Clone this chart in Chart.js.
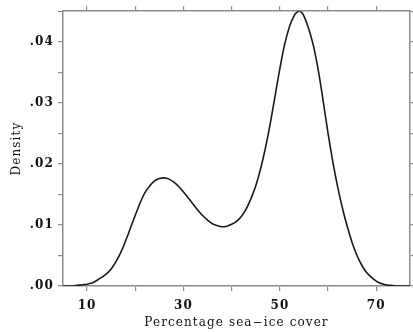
<!DOCTYPE html>
<html>
<head>
<meta charset="utf-8">
<script src="https://cdn.jsdelivr.net/npm/chart.js@4/dist/chart.umd.min.js"></script>
<style>
html,body{margin:0;padding:0;background:#fff;}
#wrap{width:413px;height:332px;}
</style>
</head>
<body>
<div id="wrap"><canvas id="c" width="413" height="332"></canvas></div>
<script>
const iceCover = [5,7,8,9,10,11,12,13,14,15,16,17,18,19,20,21,22,23,24,25,26,27,28,29,30,31,32,33,34,35,36,37,38,39,40,41,42,43,44,45,46,47,48,49,50,51,52,53,53.5,54,54.5,55,56,57,58,59,60,61,62,63,64,65,66,67,68,69,70,71,72,73,74,77];
const density  = [0,0,0.0001,0.0002,0.0003,0.0005,0.0009,0.0014,0.0020,0.0028,0.0040,0.0055,0.0074,0.0095,0.0116,0.0136,0.0153,0.0164,0.0172,0.0176,0.0177,0.0175,0.0170,0.0163,0.0154,0.0144,0.0134,0.0124,0.0115,0.0108,0.0102,0.0099,0.0097,0.0098,0.0101,0.0106,0.0114,0.0126,0.0143,0.0164,0.0192,0.0226,0.0266,0.0311,0.0356,0.0396,0.0425,0.0443,0.0448,0.0450,0.0448,0.0442,0.0421,0.0392,0.0352,0.0302,0.0250,0.0203,0.0162,0.0127,0.0097,0.0071,0.0050,0.0034,0.0022,0.0014,0.0008,0.0004,0.0002,0.0001,0,0];
const xTicks = [10,20,30,40,50,60,70];
const xTickLabels = ['10','','30','','50','','70'];
const yTickLabels = ['.00','','.01','','.02','','.03','','.04',''];
const xTitle = 'Percentage sea\u2212ice cover';
const yTitle = 'Density';

const axisGray = '#8c8c8c';
const pts = iceCover.map((x,i)=>({x:x,y:density[i]}));

function xTickGen(scale){ scale.ticks = xTicks.map(v=>({value:v})); }

const spacingPlugin = {
  id: 'spacing',
  beforeDraw(chart){ chart.ctx.letterSpacing = '1.1px'; }
};

new Chart(document.getElementById('c'), {
  type: 'line',
  plugins: [spacingPlugin],
  data: { datasets: [{ data: pts, borderColor: '#1a1a1a', borderWidth: 1.6, pointRadius: 0, fill: false, tension: 0.4 }] },
  options: {
    responsive: false, animation: false, devicePixelRatio: 1,
    layout: { padding: 0 },
    plugins: { legend: { display: false }, tooltip: { enabled: false } },
    scales: {
      x: {
        type: 'linear', position: 'bottom', min: 5, max: 77,
        afterBuildTicks: xTickGen,
        afterFit: s => { s.height = 46; },
        border: { color: axisGray, width: 1.5 },
        grid: { drawOnChartArea: false, drawTicks: true, tickLength: 5, color: axisGray, lineWidth: 1.2 },
        ticks: { color: '#111', padding: 8, maxRotation: 0, autoSkip: false,
          font: { family: 'DejaVu Serif', size: 12, weight: 'bold' },
          callback: (v,i) => xTickLabels[i] },
        title: { display: true, text: xTitle, color: '#111', padding: { top: 0, bottom: 2 },
          font: { family: 'DejaVu Serif', size: 12 } }
      },
      x2: {
        type: 'linear', position: 'top', min: 5, max: 77,
        afterBuildTicks: xTickGen,
        afterFit: s => { s.height = 11; },
        border: { color: axisGray, width: 1.5 },
        grid: { drawOnChartArea: false, drawTicks: true, tickLength: 5, color: axisGray, lineWidth: 1.2 },
        ticks: { display: true, callback: () => '', font: { size: 1 }, padding: 0 }
      },
      y: {
        type: 'linear', position: 'left', min: 0, max: 0.045,
        afterFit: s => { s.width = 63; },
        border: { color: axisGray, width: 1.5 },
        grid: { drawOnChartArea: false, drawTicks: true, tickLength: 5, color: axisGray, lineWidth: 1.2 },
        ticks: { stepSize: 0.005, color: '#111', padding: 4, autoSkip: false,
          font: { family: 'DejaVu Serif', size: 12, weight: 'bold' },
          callback: (v,i) => yTickLabels[i] },
        title: { display: true, text: yTitle, color: '#111', padding: { top: 10, bottom: 0 },
          font: { family: 'DejaVu Serif', size: 12 } }
      },
      y2: {
        type: 'linear', position: 'right', min: 0, max: 0.045,
        afterFit: s => { s.width = 3; },
        border: { color: axisGray, width: 1.5 },
        grid: { drawOnChartArea: false, drawTicks: true, tickLength: 3, color: axisGray, lineWidth: 1.2 },
        ticks: { stepSize: 0.005, display: true, callback: () => '', font: { size: 1 }, padding: 0 }
      }
    }
  }
});
</script>
</body>
</html>
